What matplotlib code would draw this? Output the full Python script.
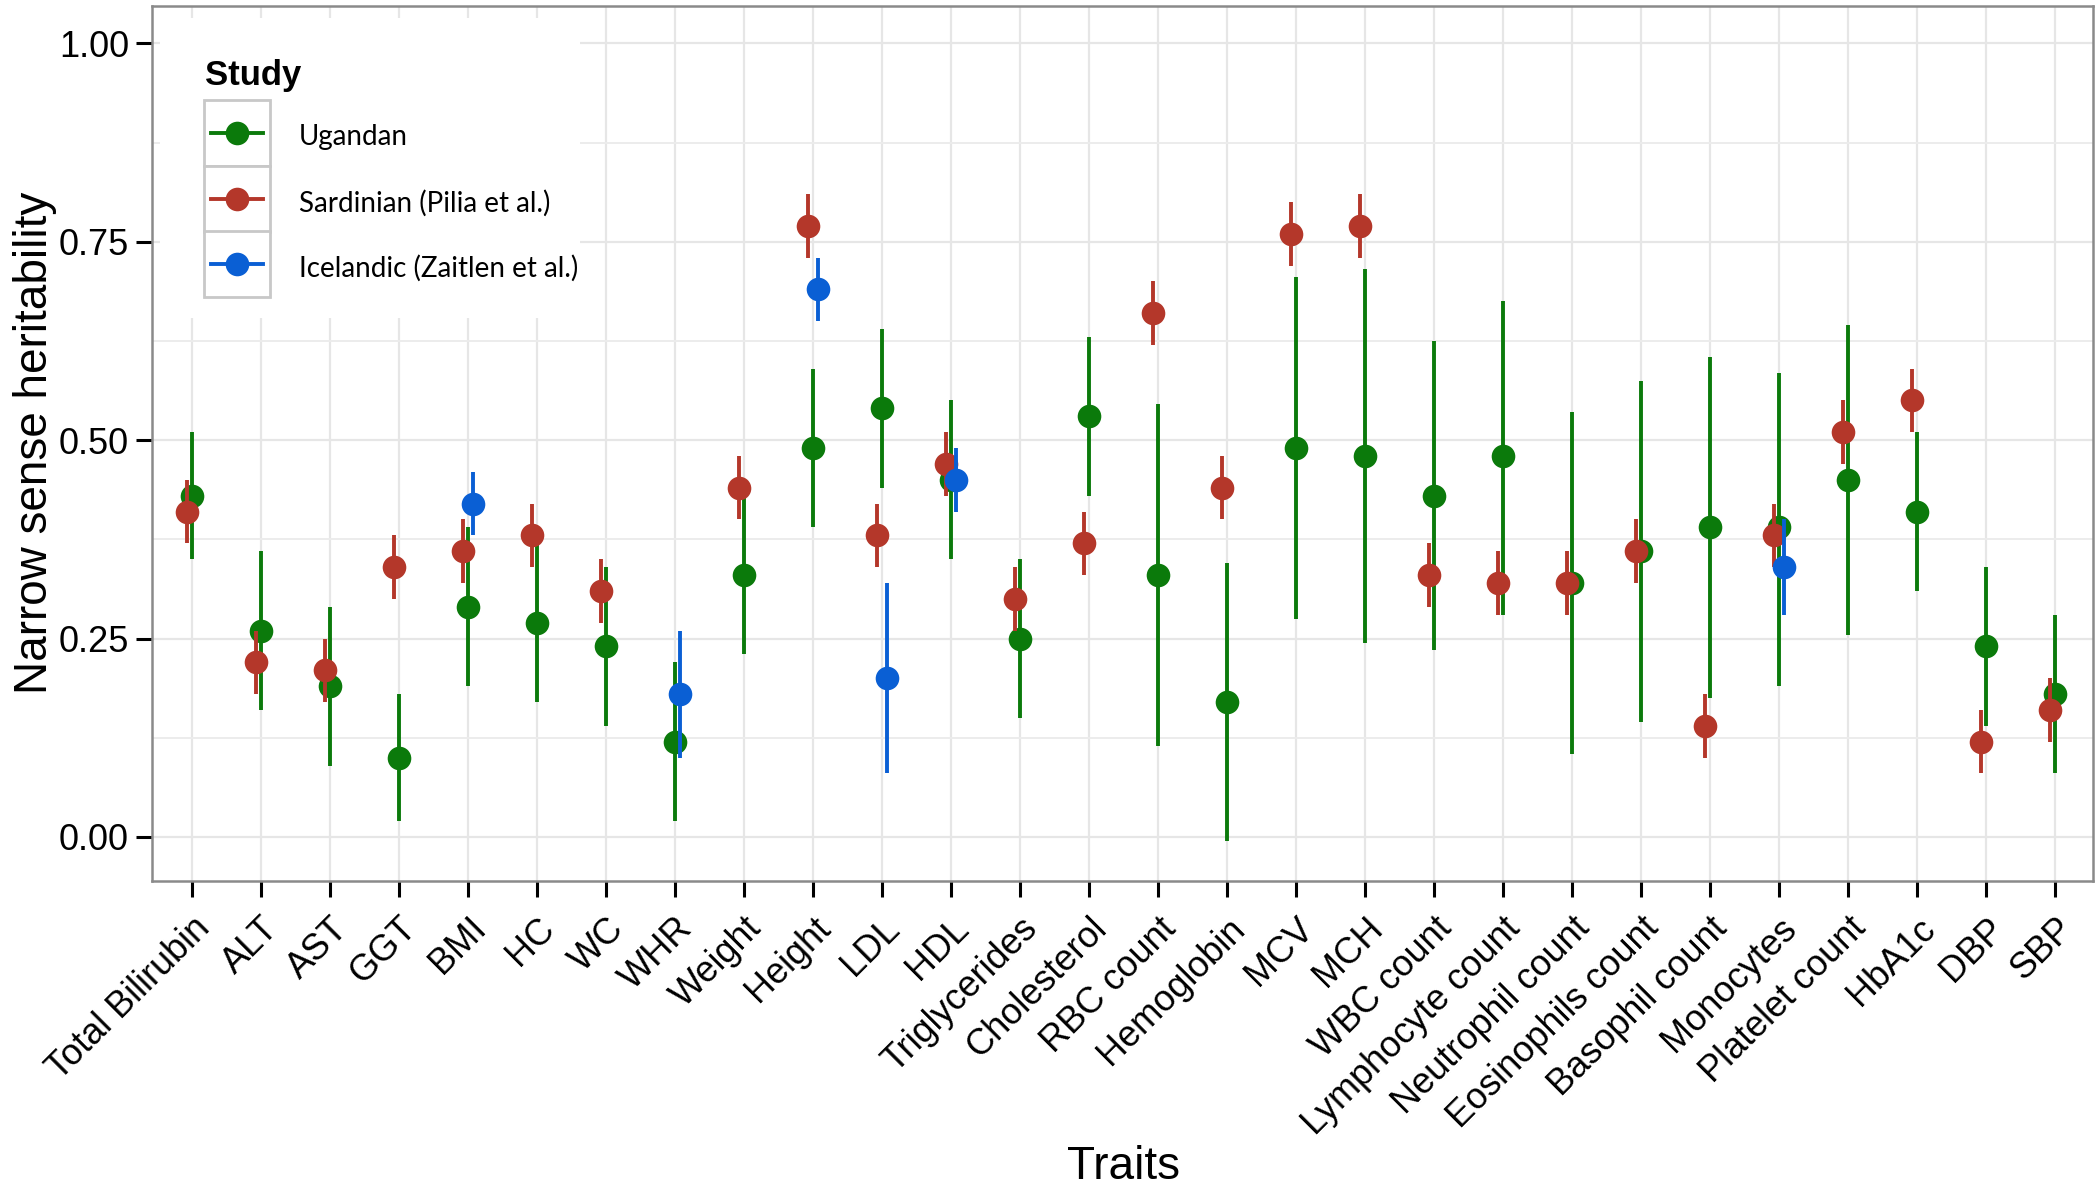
import numpy as np
import matplotlib
matplotlib.use("Agg")
import matplotlib.pyplot as plt
from matplotlib.patches import Rectangle
from matplotlib.lines import Line2D
from matplotlib import font_manager

# ---------------- data ----------------
traits = ["Total Bilirubin", "ALT", "AST", "GGT", "BMI", "HC", "WC", "WHR", "Weight",
          "Height", "LDL", "HDL", "Triglycerides", "Cholesterol", "RBC count", "Hemoglobin",
          "MCV", "MCH", "WBC count", "Lymphocyte count", "Neutrophil count",
          "Eosinophils count", "Basophil count", "Monocytes", "Platelet count", "HbA1c",
          "DBP", "SBP"]

ugandan_h = [0.43, 0.26, 0.19, 0.10, 0.29, 0.27, 0.24, 0.12, 0.33, 0.49, 0.54, 0.45, 0.25, 0.53,
             0.33, 0.17, 0.49, 0.48, 0.43, 0.48, 0.32, 0.36, 0.39, 0.39, 0.45, 0.41, 0.24, 0.18]
ugandan_lo = [0.35, 0.16, 0.09, 0.02, 0.19, 0.17, 0.14, 0.02, 0.23, 0.39, 0.44, 0.35, 0.15, 0.43,
              0.115, -0.005, 0.275, 0.245, 0.235, 0.28, 0.105, 0.145, 0.175, 0.19, 0.255, 0.31, 0.14, 0.08]
ugandan_hi = [0.51, 0.36, 0.29, 0.18, 0.39, 0.37, 0.34, 0.22, 0.43, 0.59, 0.64, 0.55, 0.35, 0.63,
              0.545, 0.345, 0.705, 0.715, 0.625, 0.675, 0.535, 0.575, 0.605, 0.585, 0.645, 0.51, 0.34, 0.28]

nan = float("nan")
sardinian_h = [0.41, 0.22, 0.21, 0.34, 0.36, 0.38, 0.31, nan, 0.44, 0.77, 0.38, 0.47, 0.30, 0.37,
               0.66, 0.44, 0.76, 0.77, 0.33, 0.32, 0.32, 0.36, 0.14, 0.38, 0.51, 0.55, 0.12, 0.16]
sardinian_lo = [0.37, 0.18, 0.17, 0.30, 0.32, 0.34, 0.27, nan, 0.40, 0.73, 0.34, 0.43, 0.26, 0.33,
                0.62, 0.40, 0.72, 0.73, 0.29, 0.28, 0.28, 0.32, 0.10, 0.34, 0.47, 0.51, 0.08, 0.12]
sardinian_hi = [0.45, 0.26, 0.25, 0.38, 0.40, 0.42, 0.35, nan, 0.48, 0.81, 0.42, 0.51, 0.34, 0.41,
                0.70, 0.48, 0.80, 0.81, 0.37, 0.36, 0.36, 0.40, 0.18, 0.42, 0.55, 0.59, 0.16, 0.20]

icelandic_traits = ["BMI", "WHR", "Height", "LDL", "HDL", "Monocytes"]
icelandic_h = [0.42, 0.18, 0.69, 0.20, 0.45, 0.34]
icelandic_lo = [0.38, 0.10, 0.65, 0.08, 0.41, 0.28]
icelandic_hi = [0.46, 0.26, 0.73, 0.32, 0.49, 0.40]

study_labels = ["Ugandan", "Sardinian (Pilia et al.)", "Icelandic (Zaitlen et al.)"]
yticks = [0.00, 0.25, 0.50, 0.75, 1.00]

# ---------------- style ----------------
GREEN = "#0b7a0b"
RED = "#b4372a"
BLUE = "#0a5fd4"
colors = [GREEN, RED, BLUE]

names = {f.name for f in font_manager.fontManager.ttflist}
BASE = "Liberation Sans" if "Liberation Sans" in names else "DejaVu Sans"
NARROW = "Liberation Sans Narrow" if "Liberation Sans Narrow" in names else None
LEGFONT = "Lato" if "Lato" in names else BASE
plt.rcParams["font.family"] = [BASE, "DejaVu Sans"]

W, H = 2100, 1188
fig = plt.figure(figsize=(W / 100, H / 100), dpi=100)

def fx(px):
    return px / W

def fy(py):
    return 1 - py / H

L, R, T, B = 152, 2093, 6, 881
ax = fig.add_axes([fx(L), fy(B), fx(R) - fx(L), fy(T) - fy(B)])

x = np.arange(1, len(traits) + 1)
dodge = 0.068
MS = 17
LW = 2.8

# Ugandan (centre)
ax.vlines(x, ugandan_lo, ugandan_hi, color=GREEN, lw=LW, zorder=3)
ax.plot(x, ugandan_h, "o", color=GREEN, ms=MS, mec="none", zorder=3)
# Sardinian (left)
xs = x - dodge
ax.vlines(xs, sardinian_lo, sardinian_hi, color=RED, lw=LW, zorder=4)
ax.plot(xs, sardinian_h, "o", color=RED, ms=MS, mec="none", zorder=4)
# Icelandic (right)
xi = np.array([traits.index(t) + 1 for t in icelandic_traits]) + dodge
ax.vlines(xi, icelandic_lo, icelandic_hi, color=BLUE, lw=LW, zorder=5)
ax.plot(xi, icelandic_h, "o", color=BLUE, ms=MS, mec="none", zorder=5)

ax.set_xlim(0.42, 28.55)
ax.set_ylim(-0.0555, 1.047)
ax.set_xticks(x)
ax.set_xticklabels(traits, rotation=45, ha="right", va="top", rotation_mode="anchor")
ax.set_yticks(yticks)
ax.set_yticklabels([f"{v:.2f}" for v in yticks])
ax.set_yticks(np.arange(0.125, 1.0, 0.25), minor=True)

ax.grid(True, which="major", color="#e6e6e6", lw=1.6, zorder=0)
ax.grid(True, which="minor", axis="y", color="#ececec", lw=1.4, zorder=0)
ax.set_axisbelow(True)
ax.tick_params(axis="both", which="major", length=11.5, width=2.2, color="black",
               labelcolor="black")
ax.tick_params(axis="y", which="major", labelsize=26, pad=5)
ax.tick_params(axis="x", which="major", labelsize=26, pad=10)
ax.tick_params(axis="y", which="minor", length=0)
for s in ax.spines.values():
    s.set_color("#8a8a8a")
    s.set_linewidth(1.8)

# axis titles
if NARROW:
    fig.text(fx(47), fy(443), "Narrow sense heritability", rotation=90, ha="right",
             va="center", family=NARROW, fontsize=40, rotation_mode="anchor")
else:
    fig.text(fx(47), fy(443), "Narrow sense heritability", rotation=90, ha="center",
             va="baseline", fontsize=33, rotation_mode="anchor")
fig.text(fx(1123), fy(1179), "Traits", ha="center", va="baseline", fontsize=33)

# legend
fig.add_artist(Rectangle((fx(160), fy(318)), fx(580) - fx(160), fy(18) - fy(318),
                         transform=fig.transFigure, facecolor="white", edgecolor="none",
                         zorder=2))
fig.text(fx(205), fy(85), "Study", fontsize=25, fontweight="bold", ha="left",
         va="baseline", zorder=6)
key_top = [100, 166, 231]
key_h = 66
for i, (lab, col) in enumerate(zip(study_labels, colors)):
    y0 = key_top[i]
    fig.add_artist(Rectangle((fx(204), fy(y0 + key_h)), fx(270) - fx(204), key_h / H,
                             transform=fig.transFigure, facecolor="white",
                             edgecolor="#c8c8c8", lw=2.0, zorder=6))
    yc = fy(y0 + key_h / 2)
    fig.add_artist(Line2D([fx(211), fx(263)], [yc, yc], transform=fig.transFigure,
                          color=col, lw=LW, zorder=7))
    fig.add_artist(Line2D([fx(237)], [yc], transform=fig.transFigure, marker="o",
                          ms=MS, color=col, mec="none", zorder=7))
    fig.text(fx(299), fy(y0 + key_h / 2 + 4), lab, family=LEGFONT, fontsize=20,
             ha="left", va="center", zorder=7)

fig.savefig("out.png", dpi=100, facecolor="white")
